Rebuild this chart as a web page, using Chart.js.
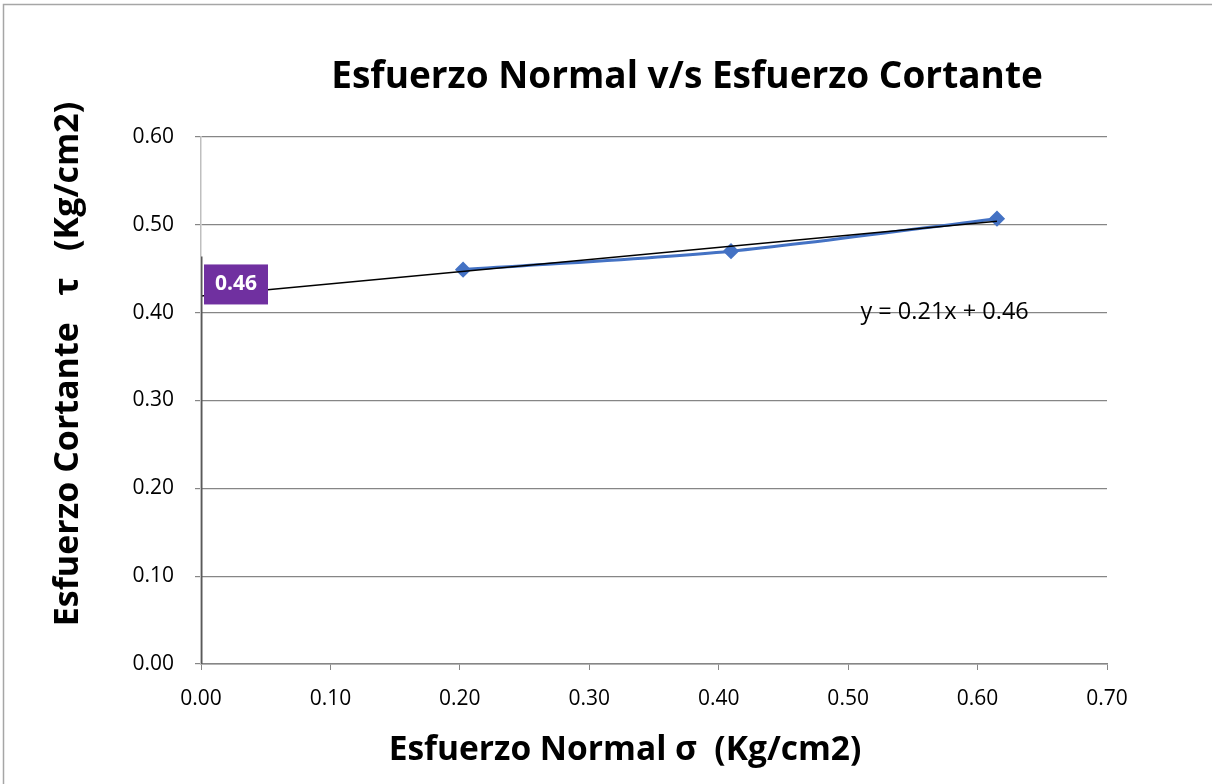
<!DOCTYPE html>
<html>
<head>
<meta charset="utf-8">
<script src="https://cdn.jsdelivr.net/npm/chart.js@4/dist/chart.umd.min.js"></script>
<style>
  html, body { margin: 0; padding: 0; background: #fff; }
  #wrap { width: 1212px; height: 784px; position: relative; }
</style>
</head>
<body>
<div id="wrap"><canvas id="chart"></canvas></div>
<script>
const normalStress = [0.2025, 0.4095, 0.615];
const shearStress = [0.449, 0.470, 0.507];
const trendX = [0, 0.615];
const trendY = [0.419, 0.504];
const barX = [0, 0];
const barY = [0, 0.464];
const interceptLabel = "0.46";
const equationText = "y = 0.21x + 0.46";
const xTicks = [0, 0.1, 0.2, 0.3, 0.4, 0.5, 0.6, 0.7];
const yTicks = [0, 0.1, 0.2, 0.3, 0.4, 0.5, 0.6];

const FONT = "'Open Sans', 'Noto Sans', sans-serif";
const GRID = "#868686";

const toPoints = (xs, ys) => xs.map((x, i) => ({ x, y: ys[i] }));

const decorations = {
  id: "decorations",
  beforeDraw(chart) {
    const ctx = chart.ctx;
    ctx.save();
    ctx.fillStyle = "#fff";
    ctx.fillRect(0, 0, chart.width, chart.height);
    ctx.strokeStyle = "#a6a6a6";
    ctx.lineWidth = 1.5;
    ctx.strokeRect(3.5, 4.5, chart.width + 20, chart.height + 20);
    ctx.restore();
  },
  afterDraw(chart) {
    const ctx = chart.ctx;
    const xs = chart.scales.x, ys = chart.scales.y;
    ctx.save();
    // title
    ctx.fillStyle = "#000";
    ctx.font = "bold 37px " + FONT;
    ctx.textAlign = "center";
    ctx.textBaseline = "middle";
    ctx.fillText("Esfuerzo Normal v/s Esfuerzo Cortante", 687, 77);

    // x axis title
    ctx.font = "bold 33.5px " + FONT;
    ctx.fillText("Esfuerzo Normal \u03C3  (Kg/cm2)", 625, 750);

    // y axis title
    ctx.save();
    ctx.translate(68, 364);
    ctx.rotate(-Math.PI / 2);
    ctx.font = "bold 34px " + FONT;
    ctx.fillText("Esfuerzo Cortante   \u03C4   (Kg/cm2)", 0, 0);
    ctx.restore();

    // intercept data label
    const px = xs.getPixelForValue(barX[1]);
    const py = ys.getPixelForValue(barY[1]);
    ctx.fillStyle = "#7030a0";
    ctx.fillRect(px + 3, py + 8, 64, 40);
    ctx.fillStyle = "#fff";
    ctx.font = "bold 21px " + FONT;
    ctx.fillText(interceptLabel, px + 35, py + 28);

    // trendline equation
    ctx.fillStyle = "#000";
    ctx.font = "23.5px " + FONT;
    ctx.textAlign = "left";
    ctx.fillText(equationText, xs.getPixelForValue(0.5095), ys.getPixelForValue(0.40));
    ctx.restore();
  }
};

new Chart(document.getElementById("chart"), {
  type: "scatter",
  data: {
    datasets: [
      {
        label: "bar",
        data: toPoints(barX, barY),
        showLine: true,
        borderColor: "#595959",
        borderWidth: 3,
        pointRadius: 0
      },
      {
        label: "trend",
        data: toPoints(trendX, trendY),
        showLine: true,
        borderColor: "#000",
        borderWidth: 1.5,
        pointRadius: 0
      },
      {
        label: "data",
        data: toPoints(normalStress, shearStress),
        showLine: true,
        tension: 0.3,
        borderColor: "#4472c4",
        backgroundColor: "#4472c4",
        borderWidth: 3,
        pointStyle: "rectRot",
        pointRadius: 6
      }
    ]
  },
  options: {
    responsive: true,
    maintainAspectRatio: false,
    animation: false,
    layout: { padding: { top: 137, right: 105, left: 0, bottom: 0 } },
    plugins: {
      legend: { display: false },
      tooltip: { enabled: false }
    },
    scales: {
      x: {
        type: "linear",
        min: 0,
        max: 0.7,
        afterFit: s => { s.height = 120; },
        afterBuildTicks: s => { s.ticks = xTicks.map(v => ({ value: v })); },
        ticks: {
          color: "#000",
          padding: 16,
          font: { family: FONT, size: 21 },
          callback: v => v.toFixed(2)
        },
        grid: { drawOnChartArea: false, drawTicks: true, tickLength: 6, color: GRID },
        border: { display: true, color: GRID, width: 1.5 }
      },
      y: {
        min: 0,
        max: 0.6,
        afterFit: s => { s.width = 201; },
        afterBuildTicks: s => { s.ticks = yTicks.map(v => ({ value: v })); },
        ticks: {
          color: "#000",
          padding: 21,
          font: { family: FONT, size: 21 },
          callback: v => v.toFixed(2)
        },
        grid: { drawOnChartArea: true, drawTicks: true, tickLength: 6, color: GRID, lineWidth: 1.2 },
        border: { display: true, color: "#bfbfbf", width: 1.5 }
      }
    }
  },
  plugins: [decorations]
});
</script>
</body>
</html>
